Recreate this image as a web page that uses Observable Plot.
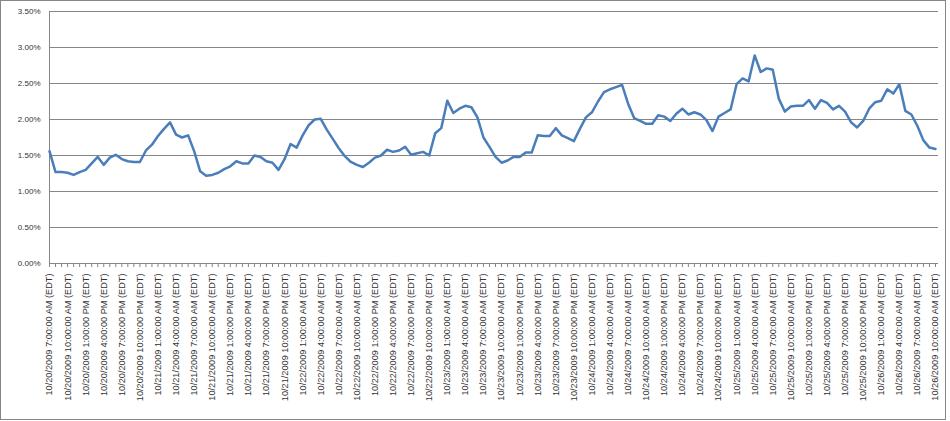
<!DOCTYPE html>
<html>
<head>
<meta charset="utf-8">
<script src="https://cdn.jsdelivr.net/npm/d3@7"></script>
<script src="https://cdn.jsdelivr.net/npm/@observablehq/plot@0.6"></script>
<style>
  body { margin: 0; background: #fff; }
  #chart { position: relative; width: 950px; height: 421px; }
  #chart svg { position: absolute; left: 0; top: 0; }
  #border { position: absolute; left: 0; top: 0; width: 944px; height: 418px; border: 1px solid #868686; pointer-events: none; }
</style>
</head>
<body>
<div id="chart"><div id="border"></div></div>
<script>
// Hourly values (%), 10/20/2009 7:00 AM (EDT) through 10/26/2009 10:00 AM (EDT)
const values = [
  1.56, 1.27, 1.27, 1.26, 1.23, 1.27, 1.30, 1.39, 1.48, 1.37,
  1.47, 1.51, 1.45, 1.42, 1.41, 1.41, 1.57, 1.65, 1.77, 1.87,
  1.96, 1.79, 1.75, 1.78, 1.56, 1.28, 1.22, 1.23, 1.26, 1.31,
  1.35, 1.42, 1.39, 1.39, 1.50, 1.48, 1.42, 1.40, 1.30, 1.45,
  1.66, 1.61, 1.78, 1.92, 2.00, 2.01, 1.86, 1.73, 1.60, 1.49,
  1.41, 1.37, 1.34, 1.40, 1.47, 1.50, 1.58, 1.55, 1.57, 1.62,
  1.51, 1.53, 1.55, 1.50, 1.81, 1.88, 2.26, 2.09, 2.15, 2.19,
  2.17, 2.03, 1.75, 1.62, 1.48, 1.40, 1.43, 1.48, 1.48, 1.54,
  1.54, 1.78, 1.77, 1.77, 1.88, 1.78, 1.74, 1.70, 1.87, 2.03,
  2.10, 2.25, 2.38, 2.42, 2.45, 2.48, 2.22, 2.02, 1.98, 1.94,
  1.94, 2.06, 2.04, 1.98, 2.08, 2.15, 2.07, 2.10, 2.07, 1.99,
  1.84, 2.04, 2.09, 2.14, 2.49, 2.57, 2.53, 2.89, 2.66, 2.71,
  2.69, 2.29, 2.11, 2.18, 2.19, 2.19, 2.27, 2.15, 2.27, 2.23,
  2.14, 2.19, 2.11, 1.96, 1.89, 1.98, 2.15, 2.24, 2.26, 2.42,
  2.36, 2.49, 2.12, 2.07, 1.91, 1.71, 1.61, 1.59
];

// Category labels shown on the axis (every third hourly category)
const tickLabels = [
  "10/20/2009 7:00:00 AM (EDT)", "10/20/2009 10:00:00 AM (EDT)", "10/20/2009 1:00:00 PM (EDT)",
  "10/20/2009 4:00:00 PM (EDT)", "10/20/2009 7:00:00 PM (EDT)", "10/20/2009 10:00:00 PM (EDT)",
  "10/21/2009 1:00:00 AM (EDT)", "10/21/2009 4:00:00 AM (EDT)", "10/21/2009 7:00:00 AM (EDT)",
  "10/21/2009 10:00:00 AM (EDT)", "10/21/2009 1:00:00 PM (EDT)", "10/21/2009 4:00:00 PM (EDT)",
  "10/21/2009 7:00:00 PM (EDT)", "10/21/2009 10:00:00 PM (EDT)",
  "10/22/2009 1:00:00 AM (EDT)", "10/22/2009 4:00:00 AM (EDT)", "10/22/2009 7:00:00 AM (EDT)",
  "10/22/2009 10:00:00 AM (EDT)", "10/22/2009 1:00:00 PM (EDT)", "10/22/2009 4:00:00 PM (EDT)",
  "10/22/2009 7:00:00 PM (EDT)", "10/22/2009 10:00:00 PM (EDT)",
  "10/23/2009 1:00:00 AM (EDT)", "10/23/2009 4:00:00 AM (EDT)", "10/23/2009 7:00:00 AM (EDT)",
  "10/23/2009 10:00:00 AM (EDT)", "10/23/2009 1:00:00 PM (EDT)", "10/23/2009 4:00:00 PM (EDT)",
  "10/23/2009 7:00:00 PM (EDT)", "10/23/2009 10:00:00 PM (EDT)",
  "10/24/2009 1:00:00 AM (EDT)", "10/24/2009 4:00:00 AM (EDT)", "10/24/2009 7:00:00 AM (EDT)",
  "10/24/2009 10:00:00 AM (EDT)", "10/24/2009 1:00:00 PM (EDT)", "10/24/2009 4:00:00 PM (EDT)",
  "10/24/2009 7:00:00 PM (EDT)", "10/24/2009 10:00:00 PM (EDT)",
  "10/25/2009 1:00:00 AM (EDT)", "10/25/2009 4:00:00 AM (EDT)", "10/25/2009 7:00:00 AM (EDT)",
  "10/25/2009 10:00:00 AM (EDT)", "10/25/2009 1:00:00 PM (EDT)", "10/25/2009 4:00:00 PM (EDT)",
  "10/25/2009 7:00:00 PM (EDT)", "10/25/2009 10:00:00 PM (EDT)",
  "10/26/2009 1:00:00 AM (EDT)", "10/26/2009 4:00:00 AM (EDT)", "10/26/2009 7:00:00 AM (EDT)",
  "10/26/2009 10:00:00 AM (EDT)"
];

const yTicks = [0, 0.5, 1, 1.5, 2, 2.5, 3, 3.5];
const labelStep = 3;

const data = values.map((v, i) => ({i, v}));
const allIdx = data.map(d => d.i);
const labelIdx = tickLabels.map((_, k) => k * labelStep);

const grid = "#868686";
const textColor = "#333";

const chart = Plot.plot({
  width: 950,
  height: 421,
  marginLeft: 49,
  marginRight: 12,
  marginTop: 11,
  marginBottom: 158,
  style: {fontFamily: "'Liberation Sans', Arial, sans-serif", color: textColor, background: "transparent"},
  x: {type: "linear", domain: [0, values.length - 0.5]},
  y: {domain: [0, 3.5]},
  marks: [
    Plot.ruleY(yTicks, {stroke: grid, strokeWidth: 1}),
    Plot.ruleX([0], {stroke: grid, strokeWidth: 1}),
    Plot.axisY({ticks: yTicks, tickSize: 0, tickPadding: 9, fontSize: 8,
                tickFormat: d => d.toFixed(2) + "%", label: null, fill: textColor}),
    Plot.axisX({ticks: allIdx, tickSize: 4, stroke: grid, tickFormat: () => "", label: null}),
    Plot.axisX({ticks: labelIdx, tickSize: 0, tickPadding: 10, tickRotate: -90, fontSize: 9.2,
                tickFormat: i => tickLabels[i / labelStep], label: null, fill: textColor}),
    Plot.line(data, {x: "i", y: "v", stroke: "#4a7ebb", strokeWidth: 2.5,
                     strokeLinejoin: "round", strokeLinecap: "round"})
  ]
});

document.getElementById("chart").prepend(chart);
</script>
</body>
</html>
